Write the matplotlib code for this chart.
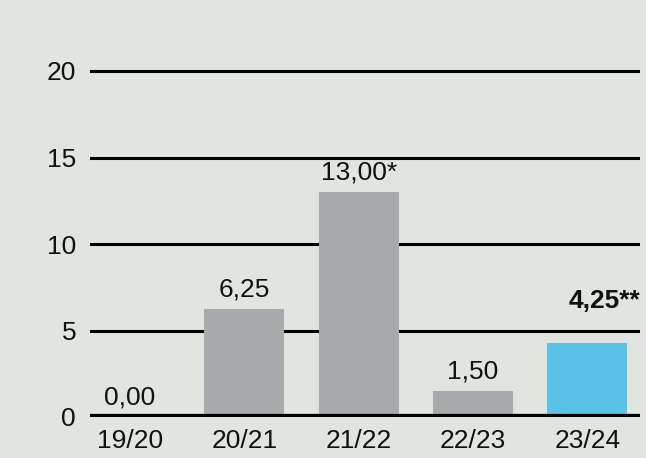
import matplotlib
matplotlib.use("Agg")
import matplotlib.pyplot as plt

categories = ["19/20", "20/21", "21/22", "22/23", "23/24"]
values = [0.00, 6.25, 13.00, 1.50, 4.25]
value_labels = ["0,00", "6,25", "13,00*", "1,50", "4,25**"]
yticks = [0, 5, 10, 15, 20]

bg = "#e1e5e0"
gray = "#a7a9aa"
blue = "#5bc2e7"
txt = "#111111"

plt.rcParams['font.family'] = ['Liberation Sans', 'DejaVu Sans']

fig = plt.figure(figsize=(6.46, 4.58), dpi=100, facecolor=bg)
ax = fig.add_axes([90/646, 41/458, 550/646, 380.6/458])
ax.set_facecolor(bg)

x = list(range(len(categories)))
colors = [gray] * (len(categories) - 1) + [blue]
ax.bar(x, values, width=0.70, color=colors, zorder=3)

ax.set_xlim(-0.35, 4.46)
ax.set_ylim(0, 22)

for y in yticks[1:]:
    ax.axhline(y, color="black", lw=2.2, zorder=1)
ax.axhline(0, color="black", lw=4.5, zorder=4)

fs = 19
for xi, v, lab in zip(x[:-1], values[:-1], value_labels[:-1]):
    ax.text(xi, v + 0.45, lab, ha="center", va="bottom", fontsize=fs, color=txt, zorder=5)
ax.text(4.46, 6.0, value_labels[-1], ha="right", va="bottom", fontsize=fs,
        fontweight="bold", color=txt, zorder=5)

ax.set_yticks(yticks)
ax.set_yticklabels([str(t) for t in yticks], fontsize=fs, color=txt)
ax.set_xticks(x)
ax.set_xticklabels(categories, fontsize=fs, color=txt)
ax.tick_params(axis="y", length=0, pad=10)
ax.tick_params(axis="x", length=0, pad=9)
for s in ax.spines.values():
    s.set_visible(False)

fig.savefig("out.png", dpi=100, facecolor=bg)
